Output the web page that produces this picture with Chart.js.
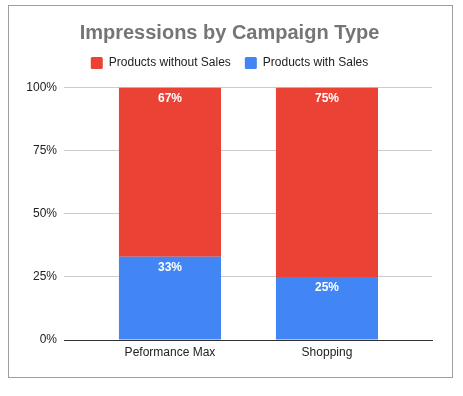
<!DOCTYPE html>
<html>
<head>
<meta charset="utf-8">
<script src="https://cdn.jsdelivr.net/npm/chart.js@4/dist/chart.umd.min.js"></script>
<style>
  html, body { margin: 0; padding: 0; background: #ffffff; }
  #wrap { position: relative; width: 463px; height: 396px; }
  #frame { position: absolute; left: 8px; top: 5px; width: 443px; height: 371px; border: 1px solid #9e9e9e; pointer-events: none; }
  canvas { position: absolute; left: 0; top: 0; }
</style>
</head>
<body>
<div id="wrap">
  <canvas id="c" width="463" height="396"></canvas>
  <div id="frame"></div>
</div>
<script>
const categories = ['Peformance Max', 'Shopping'];
const withSales = [33, 25];
const withoutSales = [67, 75];
const yTicks = [0, 25, 50, 75, 100];
const titleText = 'Impressions by Campaign Type';
const seriesNames = ['Products with Sales', 'Products without Sales'];
const FONT = "Arial, 'Liberation Sans', sans-serif";

const toPoints = arr => arr.map((v, i) => ({ x: i, y: v }));

const labelPlugin = {
  id: 'segLabels',
  afterDatasetsDraw(chart) {
    const ctx = chart.ctx;
    ctx.save();
    ctx.font = 'bold 12px ' + FONT;
    ctx.fillStyle = '#ffffff';
    ctx.textAlign = 'center';
    ctx.textBaseline = 'middle';
    chart.data.datasets.forEach((ds, di) => {
      const meta = chart.getDatasetMeta(di);
      meta.data.forEach((bar, i) => {
        ctx.fillText(ds.data[i].y + '%', bar.x, bar.y + 11);
      });
    });
    ctx.restore();
  }
};

new Chart(document.getElementById('c'), {
  type: 'bar',
  data: {
    datasets: [
      { label: seriesNames[0], data: toPoints(withSales), backgroundColor: '#4285F4', borderWidth: 0 },
      { label: seriesNames[1], data: toPoints(withoutSales), backgroundColor: '#EA4335', borderWidth: 0 }
    ]
  },
  options: {
    responsive: false,
    animation: false,
    layout: { padding: { left: 27, right: 31, top: 8, bottom: 36 } },
    barPercentage: 0.65,
    categoryPercentage: 1,
    plugins: {
      title: {
        display: true,
        text: titleText,
        color: '#757575',
        font: { family: FONT, size: 20, weight: 'bold', lineHeight: 1 },
        padding: { top: 15, bottom: 0 }
      },
      legend: {
        display: true,
        reverse: true,
        labels: {
          color: '#222222',
          font: { family: FONT, size: 12 },
          boxWidth: 12,
          boxHeight: 12,
          useBorderRadius: true,
          borderRadius: 1.5,
          padding: 14
        }
      },
      tooltip: { enabled: false }
    },
    scales: {
      x: {
        type: 'linear',
        stacked: true,
        offset: false,
        bounds: 'data',
        min: -0.675,
        max: 1.669,
        afterBuildTicks: s => { s.ticks = categories.map((c, i) => ({ value: i })); },
        afterFit: s => { s.height = 20; },
        ticks: {
          autoSkip: false,
          maxRotation: 0,
          padding: 5,
          color: '#222222',
          font: { family: FONT, size: 12 },
          callback: v => categories[v] ?? ''
        },
        grid: { display: false, drawTicks: false, offset: false },
        border: { display: true, color: '#333333', width: 1 }
      },
      xTop: {
        type: 'linear',
        position: 'top',
        display: true,
        afterBuildTicks: s => { s.ticks = []; },
        afterFit: s => { s.height = 8.5; },
        ticks: { display: false },
        grid: { display: false, drawTicks: false },
        border: { display: false }
      },
      y: {
        stacked: true,
        min: 0,
        max: 100,
        afterBuildTicks: s => { s.ticks = yTicks.map(v => ({ value: v })); },
        afterFit: s => { s.width = 37; },
        ticks: {
          padding: 7,
          color: '#222222',
          font: { family: FONT, size: 12 },
          callback: v => v + '%'
        },
        grid: { drawTicks: false, color: ctx => ctx.tick && ctx.tick.value === 0 ? '#333333' : '#cccccc' },
        border: { display: false }
      }
    }
  },
  plugins: [labelPlugin]
});
</script>
</body>
</html>
